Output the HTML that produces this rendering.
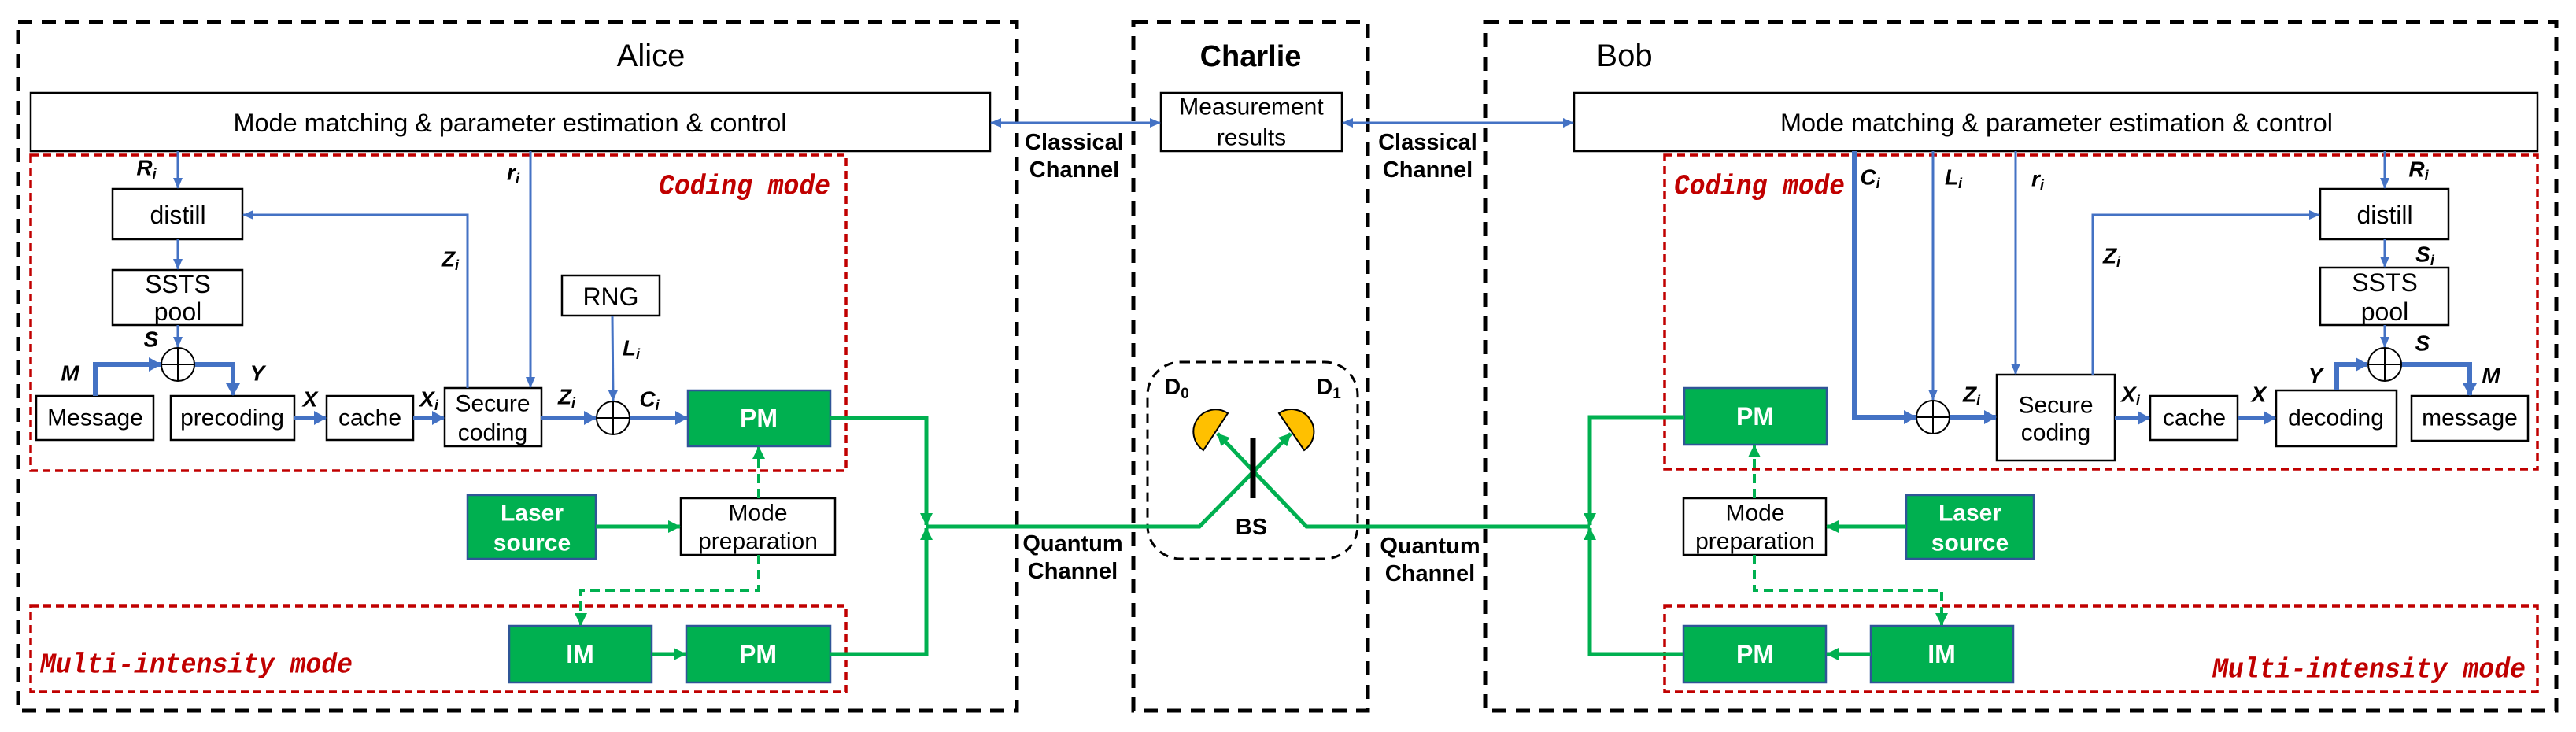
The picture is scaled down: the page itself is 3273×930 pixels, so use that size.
<!DOCTYPE html>
<html><head><meta charset="utf-8"><style>html,body{margin:0;padding:0;background:#fff}svg{display:block}</style></head>
<body>
<svg width="3273" height="930" viewBox="0 0 3273 930" xmlns="http://www.w3.org/2000/svg" font-family="Liberation Sans, Arial, sans-serif">
<defs>
<marker id="ab" markerWidth="14" markerHeight="12" refX="13" refY="6" orient="auto-start-reverse" markerUnits="userSpaceOnUse"><path d="M0,0L14,6L0,12z" fill="#4472C4"/></marker>
<marker id="abt" markerWidth="16" markerHeight="18" refX="15" refY="9" orient="auto" markerUnits="userSpaceOnUse"><path d="M0,0L16,9L0,18z" fill="#4472C4"/></marker>
<marker id="ag" markerWidth="16" markerHeight="16" refX="15" refY="8" orient="auto" markerUnits="userSpaceOnUse"><path d="M0,0L16,8L0,16z" fill="#00B050"/></marker>
</defs>

<!-- outer dashed boxes -->
<g fill="none" stroke="#000" stroke-width="5" stroke-dasharray="18 12">
<rect x="23" y="28" width="1269" height="875"/>
<rect x="1440" y="28" width="298" height="875"/>
<rect x="1887" y="28" width="1361" height="875"/>
</g>
<rect x="1458" y="460" width="267" height="250" rx="42" fill="none" stroke="#000" stroke-width="3" stroke-dasharray="12 8"/>

<!-- red mode boxes -->
<g fill="none" stroke="#C00000" stroke-width="3.5" stroke-dasharray="10 6">
<rect x="39" y="197" width="1036" height="401"/>
<rect x="39" y="770" width="1036" height="109"/>
<rect x="2115" y="197" width="1109" height="399"/>
<rect x="2115" y="770" width="1109" height="109"/>
</g>

<!-- titles -->
<text x="827" y="84" font-size="40" text-anchor="middle">Alice</text>
<text x="1589" y="84" font-size="38" font-weight="bold" text-anchor="middle">Charlie</text>
<text x="2064" y="84" font-size="40" text-anchor="middle">Bob</text>

<!-- white boxes -->
<g fill="#fff" stroke="#000" stroke-width="2.5">
<rect x="39" y="118" width="1219" height="74"/>
<rect x="1475" y="118" width="230" height="74"/>
<rect x="2000" y="118" width="1224" height="74"/>
<rect x="143" y="240" width="165" height="64"/>
<rect x="143" y="343" width="165" height="70"/>
<rect x="46" y="503" width="149" height="56"/>
<rect x="217" y="503" width="157" height="56"/>
<rect x="415" y="503" width="110" height="56"/>
<rect x="565" y="493" width="123" height="74"/>
<rect x="714" y="350" width="124" height="51"/>
<rect x="865" y="633" width="196" height="72"/>
<rect x="2948" y="240" width="163" height="64"/>
<rect x="2948" y="340" width="163" height="73"/>
<rect x="2537" y="476" width="150" height="109"/>
<rect x="2732" y="503" width="111" height="56"/>
<rect x="2892" y="496" width="153" height="71"/>
<rect x="3064" y="503" width="148" height="57"/>
<rect x="2139" y="633" width="181" height="72"/>
</g>
<!-- green boxes -->
<g fill="#00B050" stroke="#2F5597" stroke-width="2.5">
<rect x="874" y="496" width="181" height="71"/>
<rect x="594" y="629" width="163" height="81"/>
<rect x="647" y="795" width="181" height="72"/>
<rect x="872" y="795" width="183" height="72"/>
<rect x="2140" y="493" width="181" height="72"/>
<rect x="2422" y="629" width="162" height="81"/>
<rect x="2139" y="795" width="181" height="72"/>
<rect x="2377" y="795" width="181" height="72"/>
</g>

<!-- box text -->
<g font-size="32" text-anchor="middle" dominant-baseline="central" fill="#000">
<text x="648" y="156" textLength="703" lengthAdjust="spacingAndGlyphs">Mode matching &amp; parameter estimation &amp; control</text>
<text x="2613" y="156" textLength="702" lengthAdjust="spacingAndGlyphs">Mode matching &amp; parameter estimation &amp; control</text>
<text x="1590" y="136" font-size="30">Measurement</text>
<text x="1590" y="175" font-size="30">results</text>
<text x="226" y="273">distill</text>
<text x="226" y="361">SSTS</text>
<text x="226" y="396">pool</text>
<text x="121" y="531" font-size="30">Message</text>
<text x="295" y="531" font-size="30">precoding</text>
<text x="470" y="531" font-size="30">cache</text>
<text x="626" y="513" font-size="30">Secure</text>
<text x="626" y="550" font-size="30">coding</text>
<text x="776" y="377">RNG</text>
<text x="963" y="652" font-size="30">Mode</text>
<text x="963" y="688" font-size="30">preparation</text>
<text x="3030" y="273">distill</text>
<text x="3030" y="359">SSTS</text>
<text x="3030" y="396">pool</text>
<text x="2612" y="515" font-size="30">Secure</text>
<text x="2612" y="550" font-size="30">coding</text>
<text x="2788" y="531" font-size="30">cache</text>
<text x="2968" y="531" font-size="30">decoding</text>
<text x="3138" y="531" font-size="30">message</text>
<text x="2230" y="652" font-size="30">Mode</text>
<text x="2230" y="688" font-size="30">preparation</text>
</g>
<g font-size="32" text-anchor="middle" dominant-baseline="central" fill="#fff" font-weight="bold">
<text x="964" y="531">PM</text>
<text x="676" y="652" font-size="30">Laser</text>
<text x="676" y="690" font-size="30">source</text>
<text x="737" y="831">IM</text>
<text x="963" y="831">PM</text>
<text x="2230" y="529">PM</text>
<text x="2503" y="652" font-size="30">Laser</text>
<text x="2503" y="690" font-size="30">source</text>
<text x="2230" y="831">PM</text>
<text x="2467" y="831">IM</text>
</g>

<!-- mode labels -->
<g font-family="Liberation Mono, monospace" font-style="italic" font-weight="bold" fill="#C00000" font-size="36" dominant-baseline="central">
<text x="837" y="237" textLength="218" lengthAdjust="spacingAndGlyphs">Coding mode</text>
<text x="51" y="845" textLength="397" lengthAdjust="spacingAndGlyphs">Multi-intensity mode</text>
<text x="2127" y="237" textLength="217" lengthAdjust="spacingAndGlyphs">Coding mode</text>
<text x="2811" y="851" textLength="398" lengthAdjust="spacingAndGlyphs">Multi-intensity mode</text>
</g>

<!-- channel labels -->
<g font-size="29" font-weight="bold" text-anchor="middle" dominant-baseline="central">
<text x="1365" y="181">Classical</text><text x="1365" y="216">Channel</text>
<text x="1814" y="181">Classical</text><text x="1814" y="216">Channel</text>
<text x="1363" y="691">Quantum</text><text x="1363" y="726">Channel</text>
<text x="1817" y="694">Quantum</text><text x="1817" y="729">Channel</text>
<text x="1590" y="670">BS</text>
<text x="1495" y="492">D<tspan font-size="19" dy="8">0</tspan></text>
<text x="1688" y="492">D<tspan font-size="19" dy="8">1</tspan></text>
</g>

<!-- blue thin lines -->
<g fill="none" stroke="#4472C4" stroke-width="3">
<line x1="1259" y1="156" x2="1474" y2="156" marker-start="url(#ab)" marker-end="url(#ab)"/>
<line x1="1706" y1="156" x2="1999" y2="156" marker-start="url(#ab)" marker-end="url(#ab)"/>
<line x1="226" y1="192" x2="226" y2="239" marker-end="url(#ab)"/>
<line x1="226" y1="304" x2="226" y2="342" marker-end="url(#ab)"/>
<line x1="226" y1="413" x2="226" y2="441" marker-end="url(#ab)"/>
<polyline points="594,493 594,273 309,273" marker-end="url(#ab)"/>
<line x1="674" y1="192" x2="674" y2="492" marker-end="url(#ab)"/>
<line x1="778" y1="401" x2="779" y2="509" marker-end="url(#ab)"/>
<line x1="2456" y1="192" x2="2456" y2="508" marker-end="url(#ab)"/>
<line x1="2561" y1="192" x2="2561" y2="475" marker-end="url(#ab)"/>
<polyline points="2659,476 2659,273 2947,273" marker-end="url(#ab)"/>
<line x1="3030" y1="192" x2="3030" y2="239" marker-end="url(#ab)"/>
<line x1="3030" y1="304" x2="3030" y2="339" marker-end="url(#ab)"/>
<line x1="3030" y1="413" x2="3030" y2="441" marker-end="url(#ab)"/>
</g>
<!-- blue thick lines -->
<g fill="none" stroke="#4472C4" stroke-width="6">
<polyline points="121,503 121,463 204,463" marker-end="url(#abt)"/>
<polyline points="247,463 296,463 296,502" marker-end="url(#abt)"/>
<line x1="374" y1="531" x2="414" y2="531" marker-end="url(#abt)"/>
<line x1="525" y1="531" x2="564" y2="531" marker-end="url(#abt)"/>
<line x1="688" y1="531" x2="757" y2="531" marker-end="url(#abt)"/>
<line x1="800" y1="531" x2="873" y2="531" marker-end="url(#abt)"/>
<polyline points="2356,192 2356,530 2434,530" marker-end="url(#abt)"/>
<line x1="2477" y1="530" x2="2536" y2="530" marker-end="url(#abt)"/>
<line x1="2687" y1="531" x2="2731" y2="531" marker-end="url(#abt)"/>
<line x1="2843" y1="531" x2="2891" y2="531" marker-end="url(#abt)"/>
<polyline points="2969,496 2969,463 3008,463" marker-end="url(#abt)"/>
<polyline points="3051,463 3138,463 3138,502" marker-end="url(#abt)"/>
</g>

<!-- xor -->
<g fill="#fff" stroke="#000" stroke-width="2">
<circle cx="226" cy="463" r="21"/><path d="M205,463H247M226,442V484"/>
<circle cx="779" cy="531" r="21"/><path d="M758,531H800M779,510V552"/>
<circle cx="2456" cy="530" r="21"/><path d="M2435,530H2477M2456,509V551"/>
<circle cx="3030" cy="463" r="21"/><path d="M3009,463H3051M3030,442V484"/>
</g>

<!-- variable labels -->
<g font-size="28" font-weight="bold" font-style="italic" text-anchor="middle" dominant-baseline="central">
<text x="186" y="213">R<tspan font-size="18" dy="8">i</tspan></text>
<text x="652" y="219">r<tspan font-size="18" dy="8">i</tspan></text>
<text x="572" y="329">Z<tspan font-size="18" dy="8">i</tspan></text>
<text x="192" y="431">S</text>
<text x="89" y="474">M</text>
<text x="327" y="474">Y</text>
<text x="394" y="507">X</text>
<text x="545" y="507">X<tspan font-size="18" dy="8">i</tspan></text>
<text x="720" y="504">Z<tspan font-size="18" dy="8">i</tspan></text>
<text x="802" y="442">L<tspan font-size="18" dy="8">i</tspan></text>
<text x="825" y="507">C<tspan font-size="18" dy="8">i</tspan></text>
<text x="2376" y="225">C<tspan font-size="18" dy="8">i</tspan></text>
<text x="2482" y="225">L<tspan font-size="18" dy="8">i</tspan></text>
<text x="2589" y="227">r<tspan font-size="18" dy="8">i</tspan></text>
<text x="2683" y="325">Z<tspan font-size="18" dy="8">i</tspan></text>
<text x="2505" y="501">Z<tspan font-size="18" dy="8">i</tspan></text>
<text x="2707" y="501">X<tspan font-size="18" dy="8">i</tspan></text>
<text x="2870" y="501">X</text>
<text x="2942" y="477">Y</text>
<text x="3078" y="436">S</text>
<text x="3165" y="477">M</text>
<text x="3073" y="215">R<tspan font-size="18" dy="8">i</tspan></text>
<text x="3081" y="323">S<tspan font-size="18" dy="8">i</tspan></text>
</g>

<!-- green lines -->
<g fill="none" stroke="#00B050" stroke-width="5">
<polyline points="1055,531 1177,531 1177,667" marker-end="url(#ag)"/>
<polyline points="1055,831 1177,831 1177,671" marker-end="url(#ag)"/>
<line x1="757" y1="669" x2="864" y2="669" marker-end="url(#ag)"/>
<polyline points="1177,669 1524,669 1640,551" marker-end="url(#ag)"/>
<polyline points="2020,669 1660,669 1547,551" marker-end="url(#ag)"/>
<polyline points="2140,530 2020,530 2020,667" marker-end="url(#ag)"/>
<polyline points="2139,831 2020,831 2020,671" marker-end="url(#ag)"/>
<line x1="2422" y1="669" x2="2321" y2="669" marker-end="url(#ag)"/>
<line x1="2377" y1="831" x2="2321" y2="831" marker-end="url(#ag)"/>
<line x1="828" y1="831" x2="871" y2="831" marker-end="url(#ag)"/>
</g>
<g fill="none" stroke="#00B050" stroke-width="4" stroke-dasharray="12 7">
<line x1="964" y1="633" x2="964" y2="568" marker-end="url(#ag)"/>
<polyline points="964,705 964,750 738,750 738,794" marker-end="url(#ag)"/>
<line x1="2229" y1="633" x2="2229" y2="566" marker-end="url(#ag)"/>
<polyline points="2229,705 2229,750 2467,750 2467,794" marker-end="url(#ag)"/>
</g>

<!-- detectors & BS -->
<path d="M1560,525 A28,28 0 0,0 1529,572 Z" fill="#FFC000" stroke="#000" stroke-width="2"/>
<path d="M1625,525 A28,28 0 0,1 1657,572 Z" fill="#FFC000" stroke="#000" stroke-width="2"/>
<line x1="1592" y1="557" x2="1592" y2="633" stroke="#000" stroke-width="7"/>
</svg>
</body></html>
